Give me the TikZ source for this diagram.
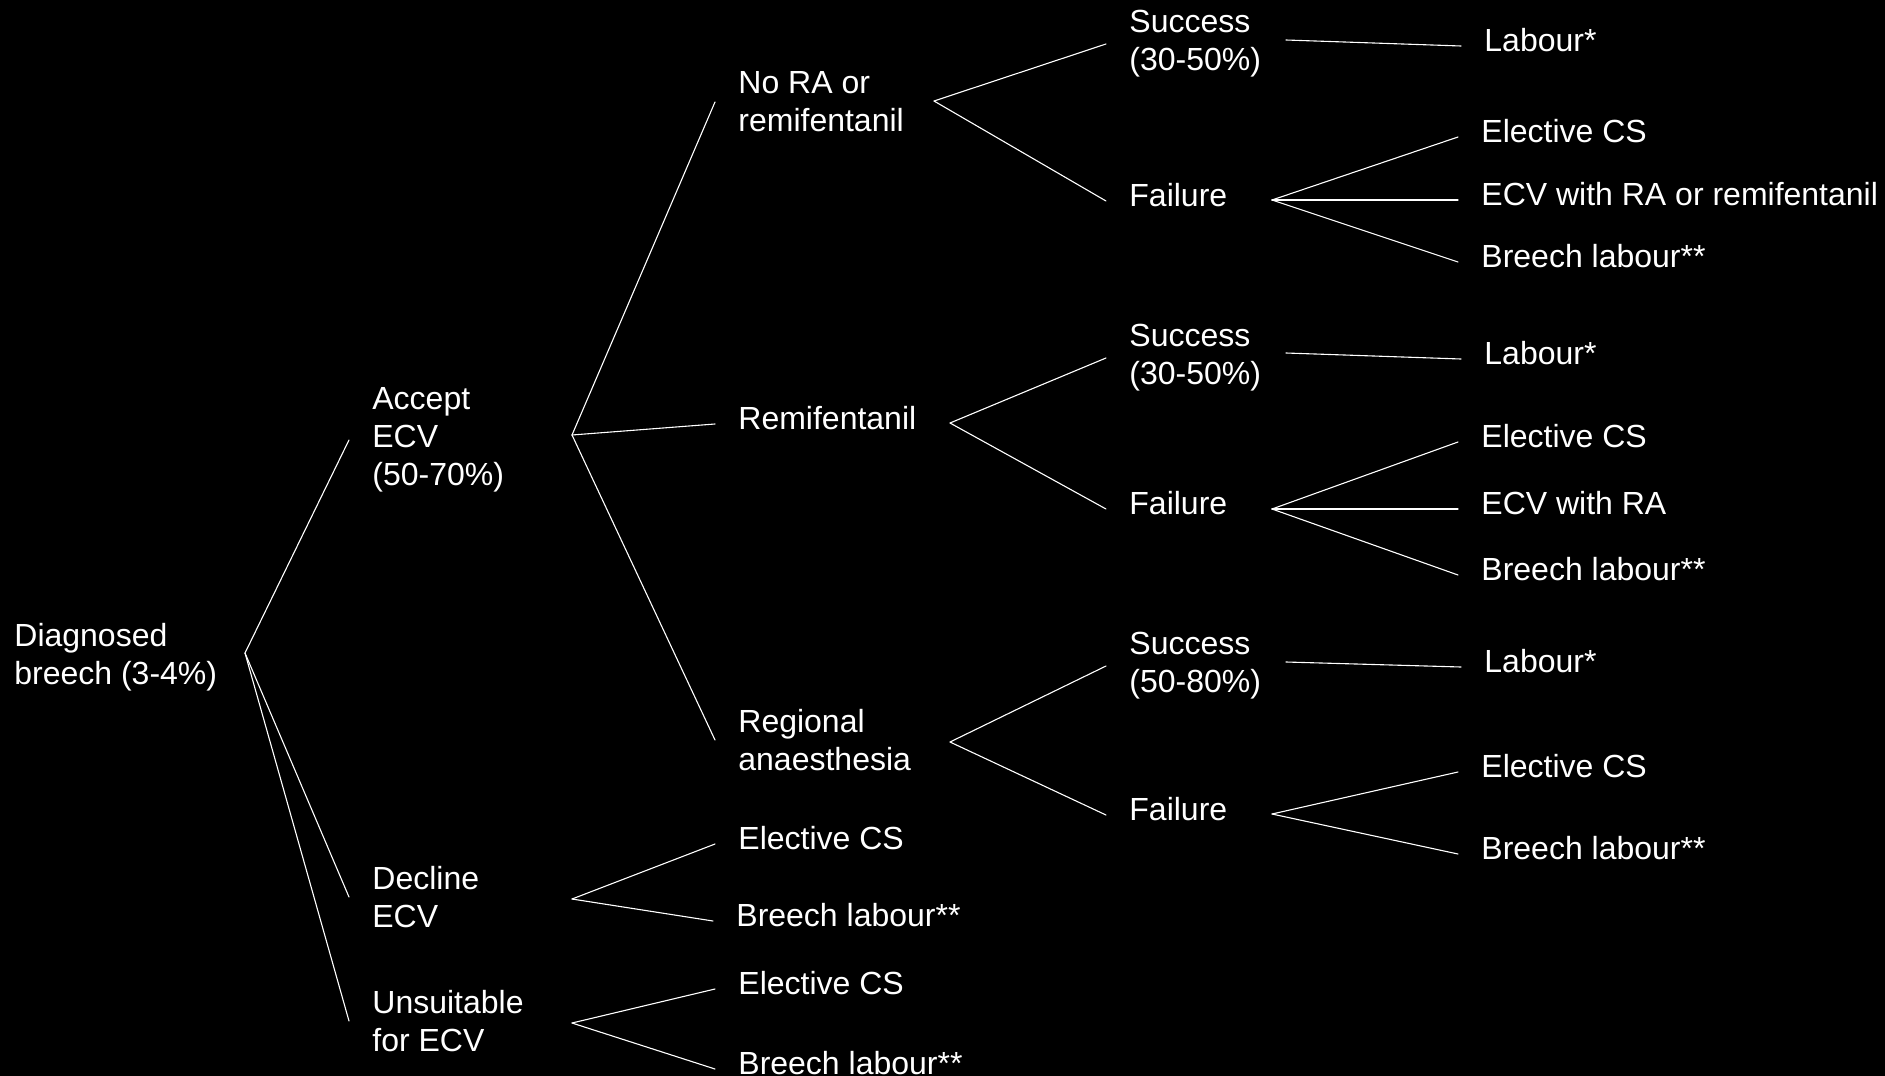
\documentclass[tikz,border=0pt]{standalone}
\usepackage{fontspec}
\setmainfont{Liberation Sans}
\begin{document}
\begin{tikzpicture}
% TikZ tree laid out on a 1885x1076 pixel grid
\def\pxsz{0.5pt}
\providecommand{\treeLineColor}{white}
\providecommand{\treeTextColor}{white}
\providecommand{\treeLineWidth}{0.55pt}
\begin{scope}[x=\pxsz, y=-\pxsz, line cap=round, line join=round,
  txt/.style={anchor=west, align=left, text=\treeTextColor, inner xsep=11.5pt, inner ysep=0pt, font=\fontsize{16}{19}\selectfont},
  txtone/.style={txt, text height=8pt, text depth=3pt}]
  % Background, also fixes the page size
  \useasboundingbox (0,0) rectangle (1885,1076);
  \fill[black] (0,0) rectangle (1885,1076);
  % First and second column
  \node[txt] (root) at (-9,657) {Diagnosed\\breech (3-4\%)};
  \node[txt] (accept) at (349,440) {Accept\\ECV\\(50-70\%)};
  \node[txt] (decline) at (349,897) {Decline\\ECV};
  \node[txt] (unsuit) at (349,1021) {Unsuitable\\for ECV};
  % Third column
  \node[txt] (nora) at (715,102) {No RA or\\remifentanil};
  \node[txtone] (remi) at (715,424) {Remifentanil};
  \node[txt] (regional) at (715,740) {Regional\\anaesthesia};
  \node[txtone] (decEl) at (715,844) {Elective CS};
  \node[txtone] (decBr) at (713,921) {Breech labour**};
  \node[txtone] (unsEl) at (715,989) {Elective CS};
  \node[txtone] (unsBr) at (715,1069) {Breech labour**};
  % Fourth column
  \node[txt] (succA) at (1106,44) {Success\\(30-50\%)};
  \node[txtone] (failA) at (1106,201) {Failure};
  \node[txt] (succB) at (1106,358) {Success\\(30-50\%)};
  \node[txtone] (failB) at (1106,509) {Failure};
  \node[txt] (succC) at (1106,666) {Success\\(50-80\%)};
  \node[txtone] (failC) at (1106,815) {Failure};
  % Fifth column
  \node[txtone] (labA) at (1461,46) {Labour*};
  \node[txtone] (elA) at (1458,137) {Elective CS};
  \node[txtone] (ecvA) at (1458,200) {ECV with RA or remifentanil};
  \node[txtone] (brA) at (1458,262) {Breech labour**};
  \node[txtone] (labB) at (1461,359) {Labour*};
  \node[txtone] (elB) at (1458,442) {Elective CS};
  \node[txtone] (ecvB) at (1458,509) {ECV with RA};
  \node[txtone] (brB) at (1458,575) {Breech labour**};
  \node[txtone] (labC) at (1461,667) {Labour*};
  \node[txtone] (elC) at (1458,772) {Elective CS};
  \node[txtone] (brC) at (1458,854) {Breech labour**};
  % Branch points
  \coordinate (rootFork) at (245,653);
  \coordinate (acceptFork) at (572,435);
  \coordinate (declineFork) at (572,899);
  \coordinate (unsuitFork) at (572,1023);
  \coordinate (noraFork) at (934,101);
  \coordinate (remiFork) at (950,423);
  \coordinate (regionalFork) at (950,742);
  \coordinate (succAFork) at (1286,40);
  \coordinate (succBFork) at (1286,353);
  \coordinate (succCFork) at (1286,662);
  \coordinate (failAFork) at (1272,200);
  \coordinate (failBFork) at (1272,509);
  \coordinate (failCFork) at (1272,814);
  % Branches
  \begin{scope}[draw=\treeLineColor, line width=\treeLineWidth]
    \draw (rootFork) -- (accept.west);
    \draw (rootFork) -- (decline.west);
    \draw (rootFork) -- (unsuit.west);
    \draw (acceptFork) -- (nora.west);
    \draw (acceptFork) -- (remi.west);
    \draw (acceptFork) -- (regional.west);
    \draw (declineFork) -- (decEl.west);
    \draw (declineFork) -- (decBr.west);
    \draw (unsuitFork) -- (unsEl.west);
    \draw (unsuitFork) -- (unsBr.west);
    \draw (noraFork) -- (succA.west);
    \draw (noraFork) -- (failA.west);
    \draw (remiFork) -- (succB.west);
    \draw (remiFork) -- (failB.west);
    \draw (regionalFork) -- (succC.west);
    \draw (regionalFork) -- (failC.west);
    \draw (succAFork) -- (labA.west);
    \draw (succBFork) -- (labB.west);
    \draw (succCFork) -- (labC.west);
    \draw (failAFork) -- (elA.west);
    \draw (failAFork) -- (ecvA.west);
    \draw (failAFork) -- (brA.west);
    \draw (failBFork) -- (elB.west);
    \draw (failBFork) -- (ecvB.west);
    \draw (failBFork) -- (brB.west);
    \draw (failCFork) -- (elC.west);
    \draw (failCFork) -- (brC.west);
  \end{scope}
\end{scope}
\end{tikzpicture}
\end{document}
